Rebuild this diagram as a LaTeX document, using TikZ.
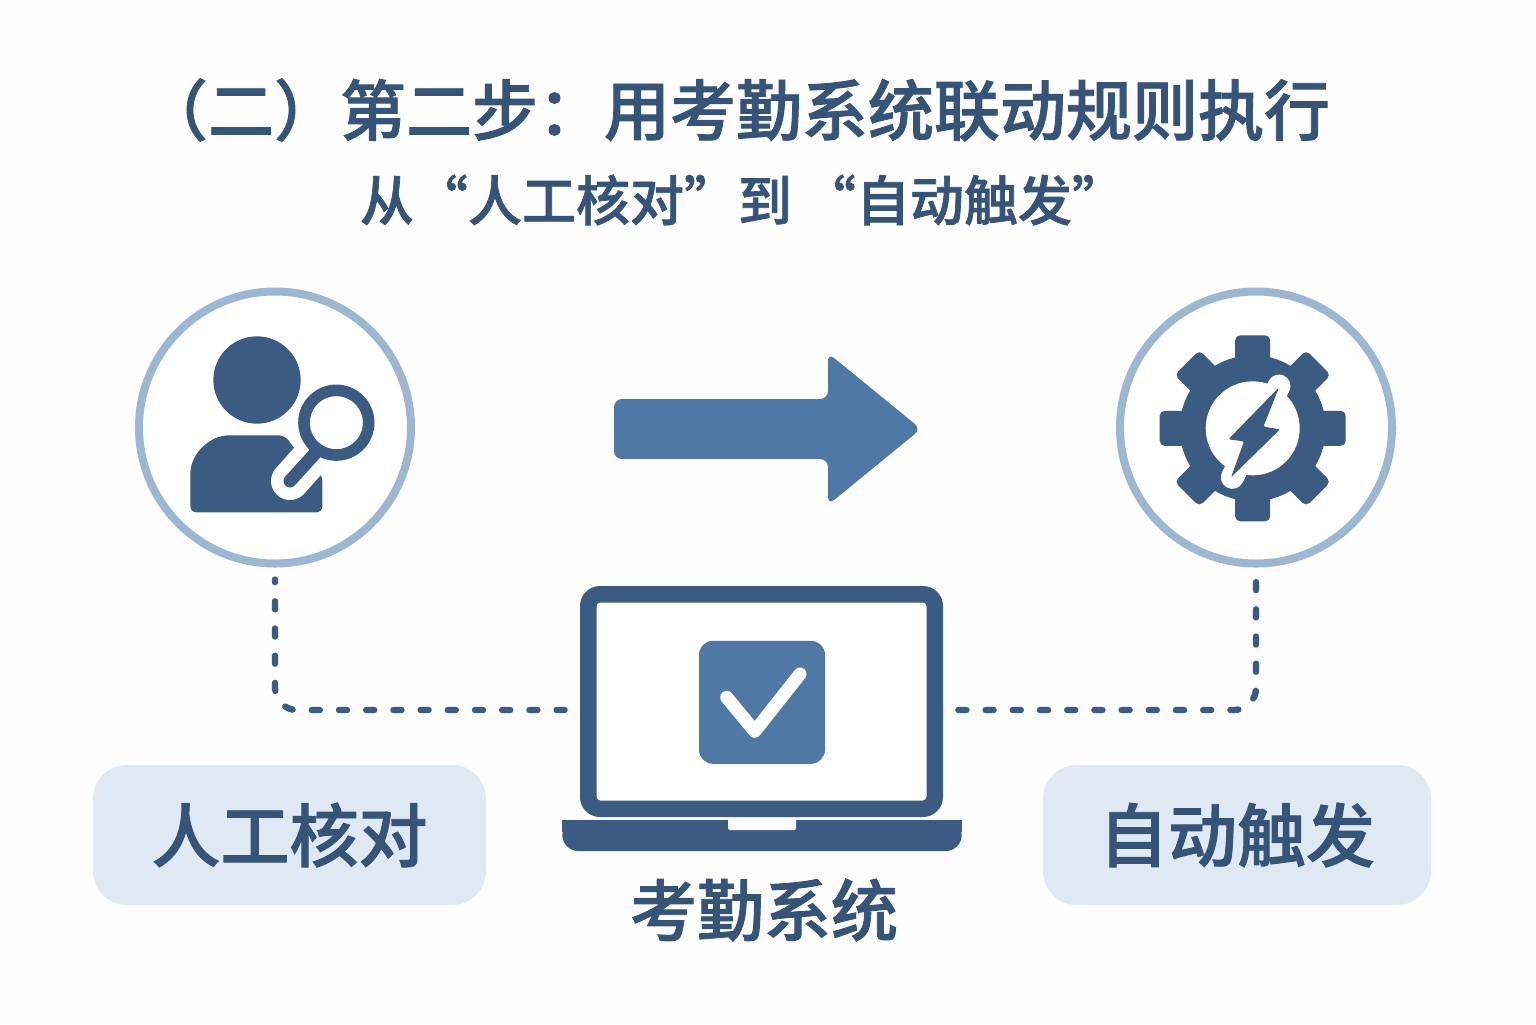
\documentclass[tikz,border=0pt]{standalone}
\usepackage{fontspec}
\setmainfont{Noto Sans CJK SC Medium}[FakeBold=1.3]
\usetikzlibrary{calc}
\definecolor{dark}{HTML}{3B5B82}
\definecolor{inkc}{HTML}{365478}
\definecolor{mid}{HTML}{4F78A5}
\definecolor{ring}{HTML}{9DB7D3}
\definecolor{pale}{HTML}{DFE9F3}
\definecolor{paper}{HTML}{FDFDFD}
\tikzset{
  ringnode/.style={circle,draw=ring,line width=4pt,minimum size=136pt,fill=white,inner sep=0pt},
  labelbox/.style={fill=pale,rounded corners=17pt,minimum height=70pt,inner sep=0pt,text=inkc,font=\fontsize{34.5pt}{40pt}\selectfont},
  conn/.style={draw=dark,line width=3.2pt,line cap=round,dash pattern=on 4pt off 9.6pt,rounded corners=11pt},
  titletext/.style={text=inkc,inner sep=0pt},
  zoomA/.style={shift={(120,280)},x=0.16667pt,y=-0.16667pt},
  zoomB/.style={shift={(1100,280)},x=0.16667pt,y=-0.16667pt}
}
\begin{document}
\begin{tikzpicture}[x=0.5pt,y=-0.5pt]
\useasboundingbox (0,0) rectangle (1536,1024);
\fill[paper] (0,0) rectangle (1536,1024);
% titles
\node[titletext,font=\fontsize{33pt}{38pt}\selectfont] (title) at (736,110) {（二）第二步：用考勤系统联动规则执行};
\node[titletext,font=\fontsize{27pt}{32pt}\selectfont] (subtitle) at (743,200) {从“人工核对”到\hspace{5pt}“自动触发”};
% circles
\node[ringnode] (cl) at (275,427.5) {};
\node[ringnode] (cr) at (1256,427.5) {};
% person icon
\begin{scope}[zoomA]
  \fill[dark] (411,300) circle[radius=131];
  \fill[dark,rounded corners=3pt] (211,697) -- (211,600) .. controls (211,520) and (270,466) .. (345,466) -- (495,466) -- (522,505) -- (607,585) -- (607,697) -- cycle;
  \draw[paper,line width=19pt,line cap=round] (510,603) -- (575,530);
  \draw[dark,line width=6.5pt,line cap=round] (510,603) -- (590,515);
  \draw[dark,fill=white,line width=5.8pt] (649,428) circle[radius=97];
\end{scope}
% gear icon
\begin{scope}[shift={(1252.7,428.3)}]
  \fill[dark] (0,0) circle[radius=73];
  \foreach \a in {0,45,...,315}
    \fill[dark,rotate=\a,rounded corners=2.5pt] (60,-17.5) rectangle (93,17.5);
  \fill[white] (0,0) circle[radius=47];
\end{scope}
\begin{scope}[zoomB]
  \draw[white,line width=11.5pt,line cap=round] (397,592) -- (537,318);
  \fill[dark,rounded corners=1pt] (537,322) -- (385,478) -- (432,484) -- (393,592) -- (540,448) -- (490,440) -- cycle;
\end{scope}
% arrow
\fill[mid,rounded corners=4pt] (614,399) -- (828,399) -- (828,353) -- (921,429) -- (828,505) -- (828,459) -- (614,459) -- cycle;
% laptop
\node[fill=dark,rounded corners=10pt,minimum width=181.5pt,minimum height=115.5pt,inner sep=0pt] (lap) at (761.5,701.5) {};
\node[fill=white,rounded corners=2pt,minimum width=165pt,minimum height=99pt,inner sep=0pt] (screen) at (lap) {};
\fill[dark,rounded corners=8pt] (562.3,820) -- (562.3,851) -- (961.7,851) -- (961.7,820) -- cycle;
\fill[dark] (562.3,820) rectangle (961.7,832);
\fill[white,rounded corners=1pt] (728,818) -- (728,830) -- (796,830) -- (796,818) -- cycle;
\node[fill=mid,rounded corners=7pt,minimum width=63pt,minimum height=61.5pt,inner sep=0pt] (check) at (762,702.3) {};
\draw[white,line width=6.5pt,line cap=round,line join=round] (726.7,697.3) -- (754.7,731.3) -- (800,674);
% connectors
\draw[conn] ([xshift=-7.5pt,yshift=-4.25pt]lap.west) -| ([yshift=-6pt]cl.south);
\draw[conn] ([xshift=7.5pt,yshift=-4.25pt]lap.east) -| ([yshift=-6pt]cr.south);
% labels
\node[labelbox,minimum width=196.5pt] (lbl) at (289.5,835) {\raisebox{-1pt}{人工核对}};
\node[labelbox,minimum width=194pt] (lbr) at (1237,835) {\raisebox{-1pt}{自动触发}};
\node[titletext,font=\fontsize{33.5pt}{40pt}\selectfont] (lbm) at (764,910) {考勤系统};
\end{tikzpicture}
\end{document}
